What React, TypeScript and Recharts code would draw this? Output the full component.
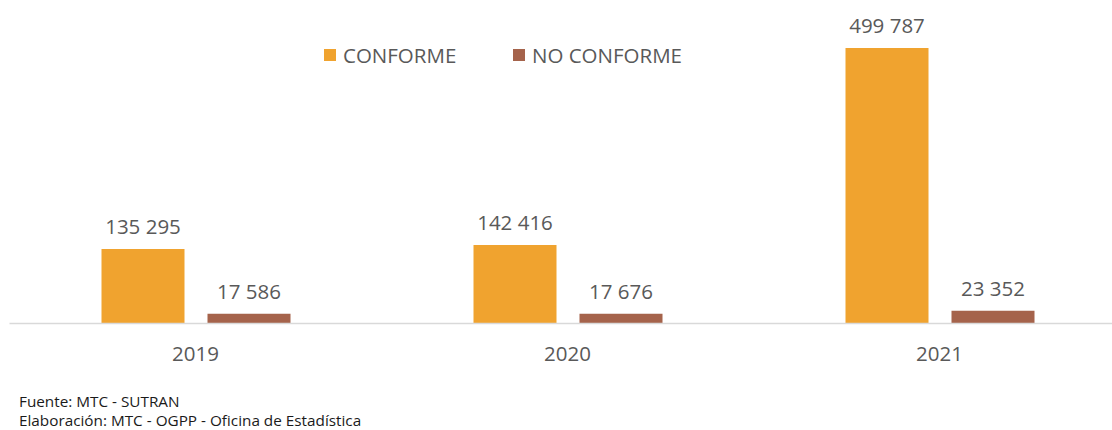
import { BarChart, Bar, XAxis, YAxis, LabelList } from 'recharts'

const years = ['2019', '2020', '2021']
const conforme = [135295, 142416, 499787]
const noConforme = [17586, 17676, 23352]
const sources = ['Fuente: MTC - SUTRAN', 'Elaboración: MTC - OGPP - Oficina de Estadística']

const data = years.map((year, i) => ({ year, conforme: conforme[i], noConforme: noConforme[i] }))

const FONT = '"Open Sans", sans-serif'
const TEXT = '#595959'
const SIZE = 20.5

function formatNum(v: number) {
  return String(v).replace(/\B(?=(\d{3})+(?!\d))/g, ' ')
}

function LegendBox() {
  const items = [
    { label: 'CONFORME', color: '#F0A32F', left: 324 },
    { label: 'NO CONFORME', color: '#A5634B', left: 513 },
  ]
  return (
    <>
      {items.map((it) => (
        <div
          key={it.label}
          style={{ position: 'absolute', top: 41, left: it.left, display: 'flex', alignItems: 'center', fontFamily: FONT, fontSize: SIZE, color: TEXT }}
        >
          <span style={{ display: 'inline-block', width: 12, height: 12, background: it.color, marginRight: 7 }} />
          {it.label}
        </div>
      ))}
    </>
  )
}

export default function App() {
  const labelStyle = { fontSize: SIZE, fill: TEXT, fontFamily: FONT }
  return (
    <div style={{ position: 'absolute', top: 0, left: 0, width: 1112, height: 430, overflow: 'hidden', background: '#fff' }}>
      <BarChart
        width={1130}
        height={430}
        data={data}
        margin={{ top: 48, right: 4.5, left: 9.5, bottom: 0 }}
        barSize={83}
        barGap={23}
      >
        <XAxis
          dataKey="year"
          axisLine={{ stroke: '#d9d9d9', strokeWidth: 1.5 }}
          tickLine={false}
          tick={labelStyle}
          tickMargin={17}
          height={106.5}
        />
        <YAxis hide domain={[0, 500000]} />
        <Bar dataKey="conforme" fill="#F0A32F" isAnimationActive={false}>
          <LabelList dataKey="conforme" position="top" offset={15} formatter={(v: any) => formatNum(Number(v))} style={labelStyle} />
        </Bar>
        <Bar dataKey="noConforme" fill="#A5634B" isAnimationActive={false}>
          <LabelList dataKey="noConforme" position="top" offset={15} formatter={(v: any) => formatNum(Number(v))} style={labelStyle} />
        </Bar>
      </BarChart>
      <LegendBox />
      <div style={{ position: 'absolute', left: 19, top: 392, fontFamily: FONT, fontSize: 15.3, color: '#1a1a1a', lineHeight: '19px', whiteSpace: 'nowrap' }}>
        {sources.map((s) => (
          <div key={s}>{s}</div>
        ))}
      </div>
    </div>
  )
}
